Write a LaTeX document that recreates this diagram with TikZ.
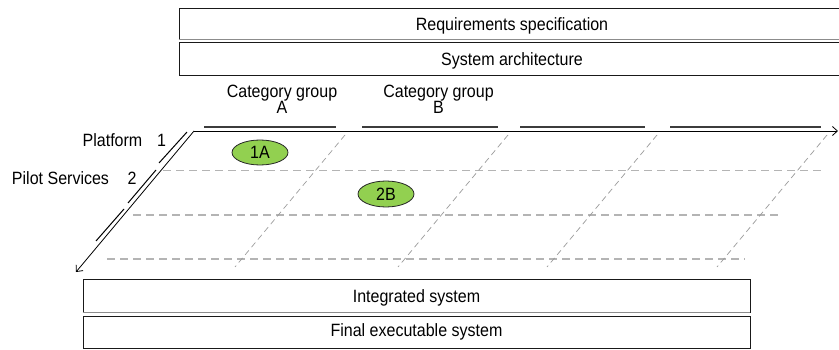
\documentclass[tikz,border=0pt]{standalone}
\usepackage{fontspec}
\setmainfont{Liberation Sans}[FakeStretch=0.9]
\usetikzlibrary{arrows.meta,shapes.geometric}
\definecolor{leaf}{HTML}{92D050}
\definecolor{gridgrey}{HTML}{B4B4B4}
\definecolor{diaggrey}{HTML}{9A9A9A}
\definecolor{bargrey}{HTML}{3C3C3C}
\begin{document}
\begin{tikzpicture}[x=1pt,y=-1pt,
  every node/.style={font=\fontsize{17.8}{15.3}\selectfont, inner sep=0pt},
  stage/.style={draw=black!90, line width=0.9pt, rectangle, minimum height=31pt,
    text height=14pt, text depth=0pt},
  shade edge/.style={draw=black!45, line width=1.8pt},
  cell/.style={ellipse, draw=black!85, line width=0.8pt, fill=leaf,
    minimum width=56pt, minimum height=25pt},
  rowline/.style={gridgrey, line width=1.6pt, dash pattern=on 8pt off 5pt},
  colline/.style={diaggrey, line width=0.7pt, dash pattern=on 6pt off 4pt},
  header bar/.style={bargrey, line width=2pt},
  axis/.style={black, line width=0.8pt, -{Straight Barb[length=5pt,width=9pt]}},
  bracket/.style={black, line width=1pt},
  tag/.style={anchor=base}
]
\useasboundingbox (0,0) rectangle (839,350);

% process stages above and below the matrix
\node[stage, minimum width=666pt] (req) at (512,23.5) {Requirements specification};
\node[stage, minimum width=666pt, minimum height=33pt] (arch) at (512,58.5) {System architecture};
\node[stage, minimum width=667pt, minimum height=33pt] (integ) at (416.5,295.5) {Integrated system};
\node[stage, minimum width=667pt, minimum height=31.6pt, text depth=7pt] (final) at (416.5,332.5) {Final executable system};
\draw[shade edge] (req.south west) -- (req.south east);
\draw[shade edge] (integ.south west) -- (integ.south east);

% column headers (base anchor sits on the last line)
\node[tag, align=center] (catA) at (282,114) {Category group\\A};
\node[tag, align=center] (catB) at (438.5,114) {Category group\\B};
\draw[header bar] (204,127) -- (336,127);
\draw[header bar] (362,127) -- (498,127);
\draw[header bar] (520,127) -- (645,127);
\draw[header bar] (670,127) -- (821,127);

% row headers
\node[tag] (plat) at (112.5,146.7) {Platform};
\node[tag] (one) at (161.5,146.7) {1};
\node[tag] (pilot) at (60.5,185) {Pilot Services};
\node[tag] (two) at (132,185) {2};

% dashed grid of the matrix
\draw[rowline] (163,170.7) -- (822,170.7);
\draw[rowline] (133,215) -- (778,215);
\draw[rowline] (107,259) -- (745,259);
\draw[colline] (345,135) -- (235,267);
\draw[colline] (508,135) -- (398,267);
\draw[colline] (657,135) -- (547,267);
\draw[colline] (827,135) -- (717,267);

% axes
\coordinate (origin) at (194,131);
\coordinate (xend) at (838,131);
\coordinate (yend) at (76,272);
\draw[axis] (origin) -- (xend);
\draw[axis] (origin) -- (yend);

% row span markers
\draw[bracket] (187,132) -- (159,163);
\draw[bracket] (156,170) -- (128,203);
\draw[bracket] (124,209) -- (96,241);

% filled cells
\node[cell] (c1A) at (260,152.5) {1A};
\node[cell, minimum height=26pt] (c2B) at (386,194) {2B};
\end{tikzpicture}
\end{document}
